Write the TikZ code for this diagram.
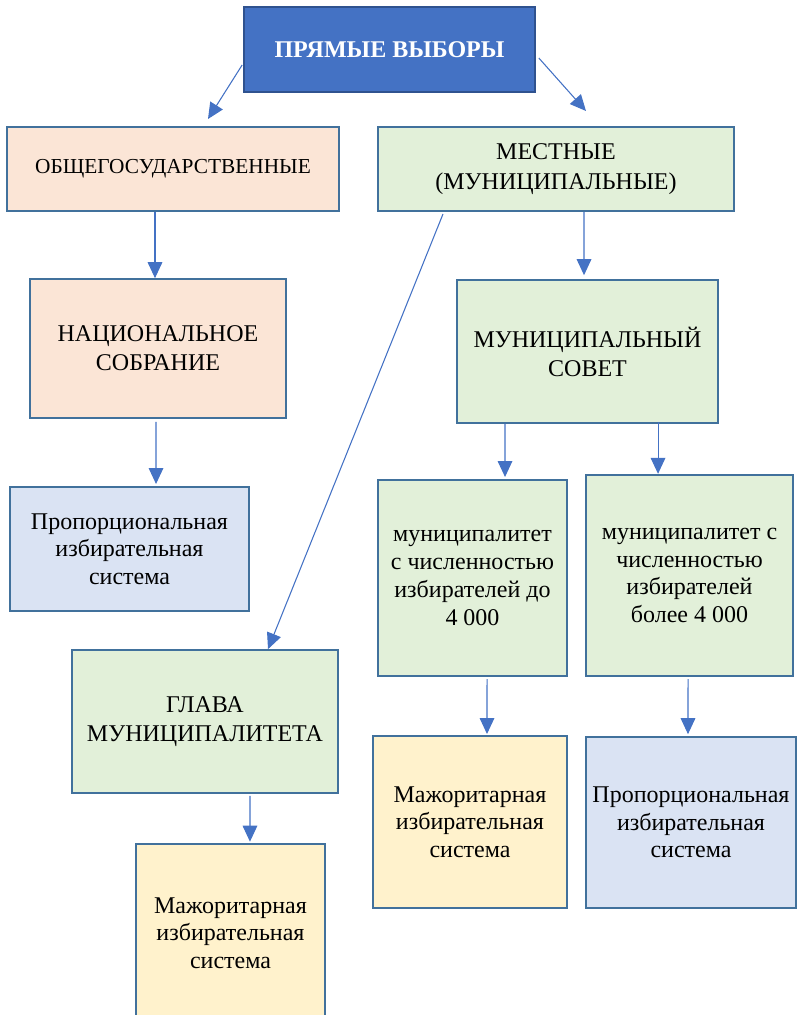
\documentclass[tikz,border=0pt]{standalone}
\usepackage{fontspec}
\setmainfont{Liberation Serif}
\usetikzlibrary{arrows.meta}
\definecolor{vyborBlue}{HTML}{4472C4}
\definecolor{vyborEdge}{HTML}{2F528F}
\definecolor{boxEdge}{HTML}{41719C}
\definecolor{gosPeach}{HTML}{FBE5D6}
\definecolor{mestGreen}{HTML}{E2F0D9}
\definecolor{sistBlue}{HTML}{DAE3F3}
\definecolor{majYellow}{HTML}{FFF2CC}

\begin{document}
\begin{tikzpicture}[x=0.75pt, y=-0.75pt]
    % Define styles
    \tikzset{
        box/.style={rectangle, draw=boxEdge, line width=1.5pt, align=center, inner sep=0pt,
            font=\fontsize{18}{20.8}\selectfont},
        gos/.style={box, fill=gosPeach},
        mest/.style={box, fill=mestGreen},
        sist/.style={box, fill=sistBlue},
        maj/.style={box, fill=majYellow},
        arrow/.style={draw=vyborBlue, line width=0.8pt, -{Triangle[length=12pt, width=11pt]}, color=vyborBlue}
    }
    \useasboundingbox (0,0) rectangle (798,1015);

    % Top
    \node [box, fill=vyborBlue, draw=vyborEdge, text=white, font=\fontsize{18}{20}\selectfont\bfseries,
        minimum width=218pt, minimum height=64pt] (pryamye) at (389.5,49.5) {ПРЯМЫЕ ВЫБОРЫ};

    % Second level
    \node [gos, minimum width=249pt, minimum height=63pt, font=\fontsize{16}{19}\selectfont] (obshgos) at (173,169) {ОБЩЕГОСУДАРСТВЕННЫЕ};
    \node [mest, minimum width=267pt, minimum height=63pt, font=\fontsize{18}{22.5}\selectfont] (mestnye) at (556,169) {МЕСТНЫЕ\\(МУНИЦИПАЛЬНЫЕ)};

    % Third level
    \node [gos, minimum width=192pt, minimum height=104pt, font=\fontsize{18}{21.7}\selectfont] (nacsobr) at (158,348.5) {НАЦИОНАЛЬНОЕ\\СОБРАНИЕ};
    \node [mest, minimum width=196pt, minimum height=107pt, font=\fontsize{18}{21.7}\selectfont] (munsovet) at (587.5,351.5) {МУНИЦИПАЛЬНЫЙ\\СОВЕТ};
    \node [sist, minimum width=179pt, minimum height=93pt] (proplevo) at (129.5,549) {Пропорциональная\\избирательная\\система};
    \node [mest, minimum width=142pt, minimum height=147pt] (mundo) at (472.5,578) {муниципалитет\\с численностью\\избирателей до\\4 000};
    \node [mest, minimum width=155pt, minimum height=151pt] (munbolee) at (689.5,575.5) {муниципалитет с\\численностью\\избирателей\\более 4 000};

    % Bottom
    \node [mest, minimum width=200pt, minimum height=107pt, font=\fontsize{18}{21.7}\selectfont] (glava) at (205,721.5) {ГЛАВА\\МУНИЦИПАЛИТЕТА};
    \node [maj, minimum width=142pt, minimum height=134pt] (majlevo) at (230.5,933) {Мажоритарная\\избирательная\\система};
    \node [maj, minimum width=145.5pt, minimum height=129pt] (majcentr) at (470,822) {Мажоритарная\\избирательная\\система};
    \node [sist, minimum width=157.5pt, minimum height=128pt] (proppravo) at (691,822.5) {Пропорциональная\\избирательная\\система};

    % Arrows
    \draw [arrow] ([xshift=-0.75pt, yshift=-11.6pt]pryamye.west) -- ([xshift=26.25pt, yshift=5.25pt]obshgos.north);
    \draw [arrow] ([xshift=2.25pt, yshift=-6.4pt]pryamye.east) -- ([xshift=22.5pt, yshift=11.25pt]mestnye.north);
    \draw [arrow] ([xshift=-13.5pt]obshgos.south) -- ([xshift=-2.25pt]nacsobr.north);
    \draw [arrow] ([xshift=21pt]mestnye.south) -- ([xshift=-2.6pt, yshift=3pt]munsovet.north);
    \draw [arrow] ([xshift=-84.75pt, yshift=-1.5pt]mestnye.south) -- ([xshift=47.25pt]glava.north);
    \draw [arrow] ([xshift=-1.5pt, yshift=-2.25pt]nacsobr.south) -- ([xshift=19.9pt, yshift=1.5pt]proplevo.north);
    \draw [arrow] ([xshift=-61.9pt]munsovet.south) -- ([xshift=24.4pt, yshift=1.5pt]mundo.north);
    \draw [arrow] ([xshift=52.9pt, yshift=1.5pt]munsovet.south) -- ([xshift=-23.6pt]munbolee.north);
    \draw [arrow] ([xshift=10.9pt, yshift=-1.5pt]mundo.south) -- ([xshift=12.75pt, yshift=0.75pt]majcentr.north);
    \draw [arrow] ([xshift=-1.1pt, yshift=-1.5pt]munbolee.south) -- ([xshift=-2.25pt, yshift=1.5pt]proppravo.north);
    \draw [arrow] ([xshift=33.75pt, yshift=-1.5pt]glava.south) -- ([xshift=14.6pt, yshift=0.75pt]majlevo.north);
\end{tikzpicture}
\end{document}
